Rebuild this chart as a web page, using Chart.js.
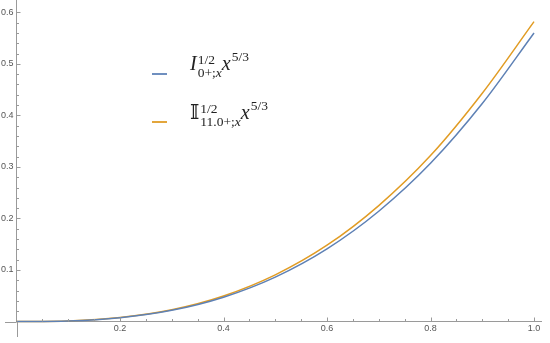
<!DOCTYPE html>
<html>
<head>
<meta charset="utf-8">
<script src="https://cdn.jsdelivr.net/npm/chart.js@4"></script>
<style>
  html, body { margin: 0; padding: 0; background: #fff; }
  #wrap { position: relative; width: 550px; height: 343px; }
  #legend { position: absolute; left: 152px; top: 50px; font-family: "Liberation Serif", "DejaVu Serif", serif; color: #222; }
  .item { position: relative; height: 48px; }
  .swatch { position: absolute; left: 0; width: 15px; height: 1.5px; }
  .expr { position: absolute; left: 38px; font-size: 20px; white-space: nowrap; }
  .ss { display: inline-block; position: relative; vertical-align: -7px; font-size: 13.5px; line-height: 13px; margin-left: 1px; }
  .ss span { display: block; }
  .sup5 { font-size: 13.5px; position: relative; top: -9px; margin-left: 1px; }
  i { font-style: italic; }
</style>
</head>
<body>
<div id="wrap">
  <canvas id="plot" width="550" height="343"></canvas>
  <div id="legend">
    <div class="item">
      <div class="swatch" style="top:23px;background:#6f8fbf"></div>
      <div class="expr" style="top:2px"><i>I</i><span class="ss"><span>1/2</span><span>0+;<i>x</i></span></span><i>x</i><span class="sup5">5/3</span></div>
    </div>
    <div class="item">
      <div class="swatch" style="top:23px;background:#e3a63c"></div>
      <div class="expr" style="top:2px"><span>𝕀</span><span class="ss"><span>1/2</span><span>11.0+;<i>x</i></span></span><i>x</i><span class="sup5">5/3</span></div>
    </div>
  </div>
</div>
<script>
// sample positions along x
const xs = [0, 0.1, 0.2, 0.3, 0.4, 0.5, 0.6, 0.7, 0.8, 0.9, 1.0];
// I^{1/2}_{0+;x} x^{5/3}
const blueVals = [0, 0.0011, 0.0073, 0.0217, 0.0472, 0.0862, 0.141, 0.214, 0.307, 0.423, 0.56];
// double-struck I^{1/2}_{11.0+;x} x^{5/3}
const orangeVals = [0, 0.0012, 0.0077, 0.0228, 0.0495, 0.0905, 0.148, 0.225, 0.322, 0.443, 0.582];

const xMajor = [0.2, 0.4, 0.6, 0.8, 1.0];
const yMajor = [0.1, 0.2, 0.3, 0.4, 0.5, 0.6];
const xMinorStep = 0.05;
const yMinorStep = 0.02;

const axisColor = '#9a9a9a';

function pts(vals) {
  return xs.map((x, i) => ({ x: x, y: vals[i] }));
}

function tickList(major, step, lo, hi) {
  const out = [];
  const n = Math.round((hi - lo) / step);
  for (let i = 0; i <= n; i++) {
    const v = +(lo + i * step).toFixed(4);
    if (v <= 0) continue;
    const isMajor = major.some(m => Math.abs(m - v) < 1e-6);
    out.push({ value: v, major: isMajor });
  }
  return out;
}

// no extra room for the outer tick labels, the plot fills the canvas
function noPad(s) {
  s.paddingTop = 0; s.paddingBottom = 0; s.paddingLeft = 0; s.paddingRight = 0;
}

// Mathematica style: ticks inside, axes crossing at origin
const mmaAxes = {
  id: 'mmaAxes',
  afterDraw(chart) {
    const c = chart.ctx;
    const xs_ = chart.scales.x, ys_ = chart.scales.y;
    const x0 = xs_.getPixelForValue(0), y0 = ys_.getPixelForValue(0);
    c.save();
    c.strokeStyle = axisColor;
    c.lineWidth = 1;
    c.beginPath();
    c.moveTo(5, Math.round(y0) + 0.5);
    c.lineTo(x0, Math.round(y0) + 0.5);
    c.moveTo(Math.round(x0) + 0.5, y0);
    c.lineTo(Math.round(x0) + 0.5, 337);
    tickList(xMajor, xMinorStep, 0, 1.0).forEach(t => {
      const px = Math.round(xs_.getPixelForValue(t.value)) + 0.5;
      c.moveTo(px, y0);
      c.lineTo(px, y0 - (t.major ? 4 : 2.5));
    });
    tickList(yMajor, yMinorStep, 0, 0.6).forEach(t => {
      const py = Math.round(ys_.getPixelForValue(t.value)) + 0.5;
      c.moveTo(x0, py);
      c.lineTo(x0 + (t.major ? 4 : 2.5), py);
    });
    c.stroke();
    c.restore();
  }
};

new Chart(document.getElementById('plot').getContext('2d'), {
  type: 'line',
  data: {
    datasets: [
      {
        label: 'I',
        data: pts(blueVals),
        borderColor: '#5e81b5',
        borderWidth: 1.5,
        pointRadius: 0,
        cubicInterpolationMode: 'monotone',
        clip: false
      },
      {
        label: 'II',
        data: pts(orangeVals),
        borderColor: '#e19c24',
        borderWidth: 1.5,
        pointRadius: 0,
        cubicInterpolationMode: 'monotone',
        clip: false
      }
    ]
  },
  options: {
    responsive: false,
    animation: false,
    layout: { padding: { left: 0, right: 9, top: 0, bottom: 0 } },
    plugins: { legend: { display: false }, tooltip: { enabled: false } },
    scales: {
      x: {
        type: 'linear',
        min: 0,
        max: 1.0135,
        afterFit: s => { s.height = 21.5; noPad(s); },
        afterBuildTicks: s => { s.ticks = xMajor.map(v => ({ value: v })); },
        grid: { display: false, drawTicks: false },
        border: { color: axisColor },
        ticks: {
          padding: 2,
          color: '#555',
          font: { family: 'Liberation Sans', size: 9 },
          callback: v => v.toFixed(1)
        }
      },
      y: {
        type: 'linear',
        min: 0,
        max: 0.624,
        afterFit: s => { s.width = 16.5; noPad(s); },
        afterBuildTicks: s => { s.ticks = yMajor.map(v => ({ value: v })); },
        grid: { display: false, drawTicks: false },
        border: { color: axisColor },
        ticks: {
          padding: 3,
          color: '#555',
          font: { family: 'Liberation Sans', size: 9 },
          callback: v => v.toFixed(1)
        }
      }
    }
  },
  plugins: [mmaAxes]
});
</script>
</body>
</html>
